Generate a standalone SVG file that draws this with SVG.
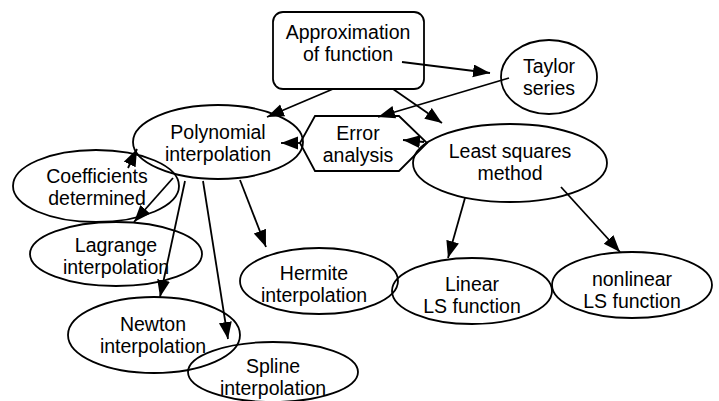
<svg xmlns="http://www.w3.org/2000/svg" width="719" height="401" viewBox="0 0 719 401">
<style>
.shape{fill:none;stroke:#000;stroke-width:1.8}
.lbl{font-family:"Liberation Sans",Arial,sans-serif;font-size:19.5px;fill:#000;text-anchor:middle}
.conn{stroke:#000;stroke-width:1.8;fill:none;marker-end:url(#ah)}
</style>
<defs>
<marker id="ah" markerUnits="userSpaceOnUse" markerWidth="18" markerHeight="14" refX="17" refY="6.5" orient="auto">
<path d="M0,0 L17,6.5 L0,13 z" fill="#000"/>
</marker>
</defs>
<rect width="719" height="401" fill="#fff"/>
<g id="approx">
<rect class="shape" x="273" y="12" width="151" height="77" rx="10"/>
<text class="lbl" x="348" y="39">Approximation</text>
<text class="lbl" x="348" y="61">of function</text>
</g>
<g id="taylor">
<ellipse class="shape" cx="549" cy="77" rx="48" ry="37"/>
<text class="lbl" x="549" y="73">Taylor</text>
<text class="lbl" x="549" y="95">series</text>
</g>
<g id="polynomial">
<ellipse class="shape" cx="218" cy="142" rx="85" ry="37"/>
<text class="lbl" x="218" y="139">Polynomial</text>
<text class="lbl" x="218" y="161">interpolation</text>
</g>
<g id="error">
<polygon class="shape" points="315,116 399,116 427,143 399,171 315,171 300,143"/>
<text class="lbl" x="358" y="140">Error</text>
<text class="lbl" x="358" y="162">analysis</text>
</g>
<g id="leastsquares">
<ellipse class="shape" cx="510" cy="163" rx="97" ry="39"/>
<text class="lbl" x="510" y="158">Least squares</text>
<text class="lbl" x="510" y="180">method</text>
</g>
<g id="coefficients">
<ellipse class="shape" cx="96" cy="186" rx="83" ry="36"/>
<text class="lbl" x="97" y="183">Coefficients</text>
<text class="lbl" x="97" y="205">determined</text>
</g>
<g id="lagrange">
<ellipse class="shape" cx="116" cy="254" rx="86" ry="32"/>
<text class="lbl" x="116" y="252">Lagrange</text>
<text class="lbl" x="116" y="274">interpolation</text>
</g>
<g id="newton">
<ellipse class="shape" cx="154" cy="335" rx="86" ry="38"/>
<text class="lbl" x="153" y="331">Newton</text>
<text class="lbl" x="153" y="353">interpolation</text>
</g>
<g id="spline">
<ellipse class="shape" cx="273" cy="372" rx="85" ry="30"/>
<text class="lbl" x="273" y="373">Spline</text>
<text class="lbl" x="273" y="395">interpolation</text>
</g>
<g id="hermite">
<ellipse class="shape" cx="319" cy="281" rx="79" ry="33"/>
<text class="lbl" x="314" y="280">Hermite</text>
<text class="lbl" x="314" y="302">interpolation</text>
</g>
<g id="linear">
<ellipse class="shape" cx="472" cy="291" rx="80" ry="33"/>
<text class="lbl" x="472" y="291">Linear</text>
<text class="lbl" x="472" y="313">LS function</text>
</g>
<g id="nonlinear">
<ellipse class="shape" cx="632" cy="285" rx="80" ry="33"/>
<text class="lbl" x="632" y="286">nonlinear</text>
<text class="lbl" x="632" y="308">LS function</text>
</g>
<g id="connectors">
<line class="conn" x1="402" y1="62" x2="490" y2="73"/>
<line class="conn" x1="509" y1="78" x2="378" y2="117"/>
<line class="conn" x1="333" y1="89" x2="267" y2="117"/>
<line class="conn" x1="393" y1="89" x2="442" y2="123"/>
<line class="conn" x1="300" y1="143" x2="281" y2="143"/>
<line class="conn" x1="424" y1="142" x2="403" y2="140"/>
<line class="conn" x1="128" y1="168" x2="137" y2="149"/>
<line class="conn" x1="173" y1="178" x2="134" y2="222"/>
<line class="conn" x1="185" y1="181" x2="160" y2="297"/>
<line class="conn" x1="203" y1="181" x2="228" y2="339"/>
<line class="conn" x1="240" y1="180" x2="266" y2="247"/>
<line class="conn" x1="465" y1="198" x2="448" y2="258"/>
<line class="conn" x1="561" y1="187" x2="620" y2="252"/>
</g>
</svg>
